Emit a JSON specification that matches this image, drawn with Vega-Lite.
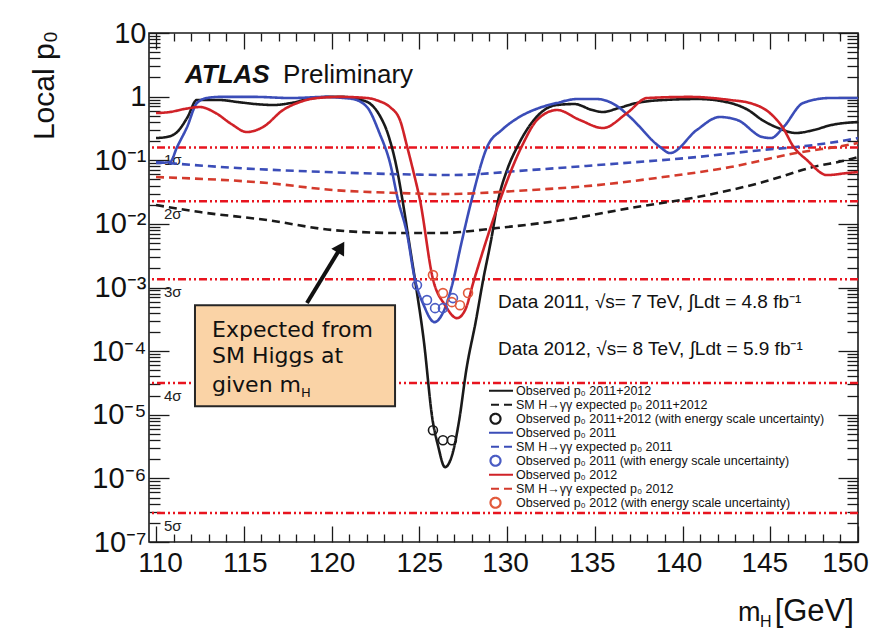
{
  "$schema": "https://vega.github.io/schema/vega-lite/v6.json",
  "width": 709,
  "height": 509,
  "autosize": {"type": "none"},
  "padding": {"left": 149, "top": 33, "right": 17, "bottom": 92},
  "background": "white",
  "config": {
    "view": {"stroke": "#1a1a1a", "strokeWidth": 1.6},
    "font": "Liberation Sans",
    "axis": {"domain": false, "grid": false}
  },
  "datasets": {
    "sigma": [
      {"n": "1σ", "p": 0.158655},
      {"n": "2σ", "p": 0.02275},
      {"n": "3σ", "p": 0.0013499},
      {"n": "4σ", "p": 3.167e-5},
      {"n": "5σ", "p": 2.867e-7}
    ],
    "curves": [
      {"s": "Observed p₀ 2011+2012", "m": 110, "p": 0.2234},
      {"s": "Observed p₀ 2011+2012", "m": 110.6, "p": 0.2315},
      {"s": "Observed p₀ 2011+2012", "m": 111.2, "p": 0.2775},
      {"s": "Observed p₀ 2011+2012", "m": 111.77, "p": 0.461},
      {"s": "Observed p₀ 2011+2012", "m": 112.33, "p": 0.884},
      {"s": "Observed p₀ 2011+2012", "m": 113.1, "p": 0.884},
      {"s": "Observed p₀ 2011+2012", "m": 113.64, "p": 0.884},
      {"s": "Observed p₀ 2011+2012", "m": 114.65, "p": 0.822},
      {"s": "Observed p₀ 2011+2012", "m": 115.66, "p": 0.765},
      {"s": "Observed p₀ 2011+2012", "m": 116.67, "p": 0.738},
      {"s": "Observed p₀ 2011+2012", "m": 117.68, "p": 0.793},
      {"s": "Observed p₀ 2011+2012", "m": 118.69, "p": 0.917},
      {"s": "Observed p₀ 2011+2012", "m": 119.7, "p": 0.99},
      {"s": "Observed p₀ 2011+2012", "m": 120.71, "p": 0.99},
      {"s": "Observed p₀ 2011+2012", "m": 121.215, "p": 0.95},
      {"s": "Observed p₀ 2011+2012", "m": 121.72, "p": 0.884},
      {"s": "Observed p₀ 2011+2012", "m": 122.225, "p": 0.765},
      {"s": "Observed p₀ 2011+2012", "m": 122.73, "p": 0.514},
      {"s": "Observed p₀ 2011+2012", "m": 123.235, "p": 0.249},
      {"s": "Observed p₀ 2011+2012", "m": 123.74, "p": 0.0701},
      {"s": "Observed p₀ 2011+2012", "m": 124.043, "p": 0.0237},
      {"s": "Observed p₀ 2011+2012", "m": 124.447, "p": 0.00464},
      {"s": "Observed p₀ 2011+2012", "m": 124.75, "p": 0.001355},
      {"s": "Observed p₀ 2011+2012", "m": 125.255, "p": 0.000149},
      {"s": "Observed p₀ 2011+2012", "m": 125.76, "p": 8.2e-6},
      {"s": "Observed p₀ 2011+2012", "m": 126.063, "p": 3.32e-6},
      {"s": "Observed p₀ 2011+2012", "m": 126.467, "p": 1.5e-6},
      {"s": "Observed p₀ 2011+2012", "m": 126.871, "p": 2.32e-6},
      {"s": "Observed p₀ 2011+2012", "m": 127.275, "p": 8.2e-6},
      {"s": "Observed p₀ 2011+2012", "m": 127.679, "p": 5.03e-5},
      {"s": "Observed p₀ 2011+2012", "m": 128.234, "p": 0.000307},
      {"s": "Observed p₀ 2011+2012", "m": 128.638, "p": 0.001307},
      {"s": "Observed p₀ 2011+2012", "m": 129.093, "p": 0.00556},
      {"s": "Observed p₀ 2011+2012", "m": 129.497, "p": 0.0237},
      {"s": "Observed p₀ 2011+2012", "m": 130.002, "p": 0.0701},
      {"s": "Observed p₀ 2011+2012", "m": 130.608, "p": 0.1672},
      {"s": "Observed p₀ 2011+2012", "m": 131.315, "p": 0.358},
      {"s": "Observed p₀ 2011+2012", "m": 132.123, "p": 0.616},
      {"s": "Observed p₀ 2011+2012", "m": 132.83, "p": 0.738},
      {"s": "Observed p₀ 2011+2012", "m": 133.84, "p": 0.765},
      {"s": "Observed p₀ 2011+2012", "m": 134.85, "p": 0.616},
      {"s": "Observed p₀ 2011+2012", "m": 135.456, "p": 0.573},
      {"s": "Observed p₀ 2011+2012", "m": 136.365, "p": 0.662},
      {"s": "Observed p₀ 2011+2012", "m": 137.375, "p": 0.793},
      {"s": "Observed p₀ 2011+2012", "m": 138.89, "p": 0.884},
      {"s": "Observed p₀ 2011+2012", "m": 140.91, "p": 0.917},
      {"s": "Observed p₀ 2011+2012", "m": 142.728, "p": 0.793},
      {"s": "Observed p₀ 2011+2012", "m": 143.738, "p": 0.616},
      {"s": "Observed p₀ 2011+2012", "m": 144.546, "p": 0.428},
      {"s": "Observed p₀ 2011+2012", "m": 145.455, "p": 0.321},
      {"s": "Observed p₀ 2011+2012", "m": 146.465, "p": 0.268},
      {"s": "Observed p₀ 2011+2012", "m": 147.475, "p": 0.2985},
      {"s": "Observed p₀ 2011+2012", "m": 148.485, "p": 0.358},
      {"s": "Observed p₀ 2011+2012", "m": 150, "p": 0.399},

      {"s": "SM H→γγ expected p₀ 2011+2012", "m": 110, "p": 0.01975},
      {"s": "SM H→γγ expected p₀ 2011+2012", "m": 112.51, "p": 0.01532},
      {"s": "SM H→γγ expected p₀ 2011+2012", "m": 116.32, "p": 0.01148},
      {"s": "SM H→γγ expected p₀ 2011+2012", "m": 120.08, "p": 0.00799},
      {"s": "SM H→γγ expected p₀ 2011+2012", "m": 123.9, "p": 0.00717},
      {"s": "SM H→γγ expected p₀ 2011+2012", "m": 126.18, "p": 0.00717},
      {"s": "SM H→γγ expected p₀ 2011+2012", "m": 129.43, "p": 0.00859},
      {"s": "SM H→γγ expected p₀ 2011+2012", "m": 133.19, "p": 0.01148},
      {"s": "SM H→γγ expected p₀ 2011+2012", "m": 137.01, "p": 0.01772},
      {"s": "SM H→γγ expected p₀ 2011+2012", "m": 140.83, "p": 0.0264},
      {"s": "SM H→γγ expected p₀ 2011+2012", "m": 144.59, "p": 0.0454},
      {"s": "SM H→γγ expected p₀ 2011+2012", "m": 147.43, "p": 0.0781},
      {"s": "SM H→γγ expected p₀ 2011+2012", "m": 149.37, "p": 0.1007},
      {"s": "SM H→γγ expected p₀ 2011+2012", "m": 150, "p": 0.1122},

      {"s": "Observed p₀ 2011", "m": 110, "p": 0.0903},
      {"s": "Observed p₀ 2011", "m": 110.8, "p": 0.0937},
      {"s": "Observed p₀ 2011", "m": 111.2, "p": 0.1613},
      {"s": "Observed p₀ 2011", "m": 111.77, "p": 0.333},
      {"s": "Observed p₀ 2011", "m": 112.33, "p": 0.793},
      {"s": "Observed p₀ 2011", "m": 112.9, "p": 0.95},
      {"s": "Observed p₀ 2011", "m": 113.64, "p": 0.99},
      {"s": "Observed p₀ 2011", "m": 115.66, "p": 0.99},
      {"s": "Observed p₀ 2011", "m": 117.68, "p": 0.95},
      {"s": "Observed p₀ 2011", "m": 119.7, "p": 0.99},
      {"s": "Observed p₀ 2011", "m": 120.71, "p": 0.95},
      {"s": "Observed p₀ 2011", "m": 121.215, "p": 0.917},
      {"s": "Observed p₀ 2011", "m": 122.023, "p": 0.686},
      {"s": "Observed p₀ 2011", "m": 122.73, "p": 0.268},
      {"s": "Observed p₀ 2011", "m": 123.336, "p": 0.0903},
      {"s": "Observed p₀ 2011", "m": 123.79, "p": 0.0237},
      {"s": "Observed p₀ 2011", "m": 124.295, "p": 0.00717},
      {"s": "Observed p₀ 2011", "m": 124.75, "p": 0.001355},
      {"s": "Observed p₀ 2011", "m": 125.255, "p": 0.000528},
      {"s": "Observed p₀ 2011", "m": 125.861, "p": 0.000286},
      {"s": "Observed p₀ 2011", "m": 126.366, "p": 0.00041},
      {"s": "Observed p₀ 2011", "m": 126.871, "p": 0.00109},
      {"s": "Observed p₀ 2011", "m": 127.376, "p": 0.00464},
      {"s": "Observed p₀ 2011", "m": 127.982, "p": 0.0237},
      {"s": "Observed p₀ 2011", "m": 128.891, "p": 0.1672},
      {"s": "Observed p₀ 2011", "m": 129.699, "p": 0.2985},
      {"s": "Observed p₀ 2011", "m": 130.608, "p": 0.461},
      {"s": "Observed p₀ 2011", "m": 131.82, "p": 0.662},
      {"s": "Observed p₀ 2011", "m": 132.83, "p": 0.793},
      {"s": "Observed p₀ 2011", "m": 134.0, "p": 0.917},
      {"s": "Observed p₀ 2011", "m": 135.13, "p": 0.917},
      {"s": "Observed p₀ 2011", "m": 136.27, "p": 0.71},
      {"s": "Observed p₀ 2011", "m": 137.01, "p": 0.478},
      {"s": "Observed p₀ 2011", "m": 138.72, "p": 0.1613},
      {"s": "Observed p₀ 2011", "m": 139.29, "p": 0.1298},
      {"s": "Observed p₀ 2011", "m": 140.81, "p": 0.2985},
      {"s": "Observed p₀ 2011", "m": 142.12, "p": 0.478},
      {"s": "Observed p₀ 2011", "m": 143.13, "p": 0.428},
      {"s": "Observed p₀ 2011", "m": 144.55, "p": 0.2315},
      {"s": "Observed p₀ 2011", "m": 145.05, "p": 0.2234},
      {"s": "Observed p₀ 2011", "m": 145.76, "p": 0.333},
      {"s": "Observed p₀ 2011", "m": 146.87, "p": 0.793},
      {"s": "Observed p₀ 2011", "m": 148.38, "p": 0.95},
      {"s": "Observed p₀ 2011", "m": 150, "p": 0.95},

      {"s": "SM H→γγ expected p₀ 2011", "m": 110, "p": 0.0937},
      {"s": "SM H→γγ expected p₀ 2011", "m": 114.65, "p": 0.0754},
      {"s": "SM H→γγ expected p₀ 2011", "m": 119.7, "p": 0.0653},
      {"s": "SM H→γγ expected p₀ 2011", "m": 124.75, "p": 0.0596},
      {"s": "SM H→γγ expected p₀ 2011", "m": 126.77, "p": 0.0585},
      {"s": "SM H→γγ expected p₀ 2011", "m": 131.315, "p": 0.0701},
      {"s": "SM H→γγ expected p₀ 2011", "m": 135.153, "p": 0.084},
      {"s": "SM H→γγ expected p₀ 2011", "m": 140.809, "p": 0.1122},
      {"s": "SM H→γγ expected p₀ 2011", "m": 144.546, "p": 0.1446},
      {"s": "SM H→γγ expected p₀ 2011", "m": 146.465, "p": 0.1613},
      {"s": "SM H→γγ expected p₀ 2011", "m": 149.394, "p": 0.2078},
      {"s": "SM H→γγ expected p₀ 2011", "m": 150, "p": 0.2234},

      {"s": "Observed p₀ 2012", "m": 110, "p": 0.552},
      {"s": "Observed p₀ 2012", "m": 110.8, "p": 0.573},
      {"s": "Observed p₀ 2012", "m": 111.6, "p": 0.638},
      {"s": "Observed p₀ 2012", "m": 112.5, "p": 0.686},
      {"s": "Observed p₀ 2012", "m": 113.4, "p": 0.553},
      {"s": "Observed p₀ 2012", "m": 114.3, "p": 0.37},
      {"s": "Observed p₀ 2012", "m": 115.18, "p": 0.2775},
      {"s": "Observed p₀ 2012", "m": 116.1, "p": 0.333},
      {"s": "Observed p₀ 2012", "m": 117.24, "p": 0.616},
      {"s": "Observed p₀ 2012", "m": 118.2, "p": 0.822},
      {"s": "Observed p₀ 2012", "m": 119.17, "p": 0.95},
      {"s": "Observed p₀ 2012", "m": 120.5, "p": 0.99},
      {"s": "Observed p₀ 2012", "m": 122.02, "p": 0.95},
      {"s": "Observed p₀ 2012", "m": 122.7, "p": 0.853},
      {"s": "Observed p₀ 2012", "m": 123.33, "p": 0.686},
      {"s": "Observed p₀ 2012", "m": 123.9, "p": 0.428},
      {"s": "Observed p₀ 2012", "m": 124.3, "p": 0.1672},
      {"s": "Observed p₀ 2012", "m": 124.7, "p": 0.0607},
      {"s": "Observed p₀ 2012", "m": 125.04, "p": 0.0237},
      {"s": "Observed p₀ 2012", "m": 125.78, "p": 0.001355},
      {"s": "Observed p₀ 2012", "m": 126.47, "p": 0.000528},
      {"s": "Observed p₀ 2012", "m": 127.15, "p": 0.00033},
      {"s": "Observed p₀ 2012", "m": 127.61, "p": 0.000441},
      {"s": "Observed p₀ 2012", "m": 128.12, "p": 0.001307},
      {"s": "Observed p₀ 2012", "m": 128.92, "p": 0.00667},
      {"s": "Observed p₀ 2012", "m": 129.6, "p": 0.0237},
      {"s": "Observed p₀ 2012", "m": 130.85, "p": 0.1672},
      {"s": "Observed p₀ 2012", "m": 131.71, "p": 0.428},
      {"s": "Observed p₀ 2012", "m": 132.85, "p": 0.616},
      {"s": "Observed p₀ 2012", "m": 134.16, "p": 0.428},
      {"s": "Observed p₀ 2012", "m": 135.47, "p": 0.321},
      {"s": "Observed p₀ 2012", "m": 136.84, "p": 0.552},
      {"s": "Observed p₀ 2012", "m": 137.98, "p": 0.95},
      {"s": "Observed p₀ 2012", "m": 140.43, "p": 0.99},
      {"s": "Observed p₀ 2012", "m": 142.71, "p": 0.884},
      {"s": "Observed p₀ 2012", "m": 143.84, "p": 0.793},
      {"s": "Observed p₀ 2012", "m": 144.98, "p": 0.552},
      {"s": "Observed p₀ 2012", "m": 145.73, "p": 0.321},
      {"s": "Observed p₀ 2012", "m": 146.3, "p": 0.1672},
      {"s": "Observed p₀ 2012", "m": 147.09, "p": 0.1007},
      {"s": "Observed p₀ 2012", "m": 148.23, "p": 0.0585},
      {"s": "Observed p₀ 2012", "m": 149.37, "p": 0.0629},
      {"s": "Observed p₀ 2012", "m": 150, "p": 0.0653},

      {"s": "SM H→γγ expected p₀ 2012", "m": 110, "p": 0.0544},
      {"s": "SM H→γγ expected p₀ 2012", "m": 116.367, "p": 0.0438},
      {"s": "SM H→γγ expected p₀ 2012", "m": 120.104, "p": 0.034},
      {"s": "SM H→γγ expected p₀ 2012", "m": 123.942, "p": 0.0305},
      {"s": "SM H→γγ expected p₀ 2012", "m": 126.265, "p": 0.0294},
      {"s": "SM H→γγ expected p₀ 2012", "m": 131.315, "p": 0.034},
      {"s": "SM H→γγ expected p₀ 2012", "m": 135.153, "p": 0.0407},
      {"s": "SM H→γγ expected p₀ 2012", "m": 138.89, "p": 0.0544},
      {"s": "SM H→γγ expected p₀ 2012", "m": 142.728, "p": 0.0781},
      {"s": "SM H→γγ expected p₀ 2012", "m": 146.465, "p": 0.1298},
      {"s": "SM H→γγ expected p₀ 2012", "m": 149.394, "p": 0.1734},
      {"s": "SM H→γγ expected p₀ 2012", "m": 150, "p": 0.1864}
    ],
    "circles": [
      {"s": "Observed p₀ 2011+2012 (with energy scale uncertainty)", "m": 125.78, "p": 5.72e-6},
      {"s": "Observed p₀ 2011+2012 (with energy scale uncertainty)", "m": 126.35, "p": 3.98e-6},
      {"s": "Observed p₀ 2011+2012 (with energy scale uncertainty)", "m": 126.86, "p": 3.98e-6},
      {"s": "Observed p₀ 2011 (with energy scale uncertainty)", "m": 124.87, "p": 0.00109},
      {"s": "Observed p₀ 2011 (with energy scale uncertainty)", "m": 125.44, "p": 0.000634},
      {"s": "Observed p₀ 2011 (with energy scale uncertainty)", "m": 125.9, "p": 0.000474},
      {"s": "Observed p₀ 2011 (with energy scale uncertainty)", "m": 126.35, "p": 0.000474},
      {"s": "Observed p₀ 2011 (with energy scale uncertainty)", "m": 126.92, "p": 0.000681},
      {"s": "Observed p₀ 2012 (with energy scale uncertainty)", "m": 125.78, "p": 0.001567},
      {"s": "Observed p₀ 2012 (with energy scale uncertainty)", "m": 126.35, "p": 0.000817},
      {"s": "Observed p₀ 2012 (with energy scale uncertainty)", "m": 126.86, "p": 0.000589},
      {"s": "Observed p₀ 2012 (with energy scale uncertainty)", "m": 127.32, "p": 0.000528},
      {"s": "Observed p₀ 2012 (with energy scale uncertainty)", "m": 127.78, "p": 0.000817}
    ]
  },
  "layer": [
    {
      "data": {"name": "sigma"},
      "mark": {"type": "rule", "color": "#e8141f", "strokeWidth": 2.5, "strokeDash": [8, 3, 2, 3, 2, 3]},
      "encoding": {
        "y": {"field": "p", "type": "quantitative", "scale": {"type": "log", "domain": [1e-7, 10], "nice": false}, "axis": null}
      }
    },
    {
      "data": {"name": "sigma"},
      "mark": {"type": "text", "font": "Liberation Sans", "fontSize": 15, "align": "left", "baseline": "middle", "dy": 13, "color": "#222"},
      "encoding": {
        "x": {"datum": 110.45, "type": "quantitative", "axis": null},
        "y": {"field": "p", "type": "quantitative", "axis": null},
        "text": {"field": "n"}
      }
    },
    {
      "data": {"values": [{"m1": 112.22, "m2": 123.62, "p1": 0.000528, "p2": 1.364e-5}]},
      "mark": {"type": "rect", "fill": "#fad3a6", "stroke": "#262626", "strokeWidth": 2},
      "encoding": {
        "x": {"field": "m1", "type": "quantitative", "axis": null},
        "x2": {"field": "m2"},
        "y": {"field": "p1", "type": "quantitative", "axis": null},
        "y2": {"field": "p2"}
      }
    },
    {
      "data": {"name": "curves"},
      "mark": {"type": "line", "interpolate": "monotone", "strokeWidth": 2.6, "clip": true},
      "encoding": {
        "x": {
          "field": "m", "type": "quantitative",
          "scale": {"domain": [109.6, 150], "nice": false, "zero": false},
          "axis": {
            "orient": "bottom", "title": null, "domain": false, "grid": false,
            "values": [110,111,112,113,114,115,116,117,118,119,120,121,122,123,124,125,126,127,128,129,130,131,132,133,134,135,136,137,138,139,140,141,142,143,144,145,146,147,148,149,150],
            "labelExpr": "datum.value % 5 == 0 ? datum.label : ''",
            "labelFont": "Liberation Sans", "labelFontSize": 28, "labelColor": "#111",
            "labelPadding": 23, "labelFlush": false, "labelOverlap": false, "labelBound": false,
            "labelOffset": {"condition": [
              {"test": "datum.value == 150", "value": -13},
              {"test": "datum.value == 110", "value": 4},
              {"test": "datum.value == 115", "value": 1},
              {"test": "datum.value == 130", "value": -2},
              {"test": "datum.value == 135", "value": -3},
              {"test": "datum.value == 140", "value": -4},
              {"test": "datum.value == 145", "value": -6}
            ], "value": 0},
            "tickColor": "#1a1a1a", "tickWidth": 1.3,
            "tickSize": {"condition": {"test": "datum.value % 5 == 0", "value": -16}, "value": -8}
          }
        },
        "y": {
          "field": "p", "type": "quantitative",
          "scale": {"type": "log", "domain": [1e-7, 10], "nice": false},
          "axis": {
            "orient": "left", "domain": false, "grid": false,
            "values": [1e-7,2e-7,3e-7,4e-7,5e-7,6e-7,7e-7,8e-7,9e-7,1e-6,2e-6,3e-6,4e-6,5e-6,6e-6,7e-6,8e-6,9e-6,1e-5,2e-5,3e-5,4e-5,5e-5,6e-5,7e-5,8e-5,9e-5,0.0001,0.0002,0.0003,0.0004,0.0005,0.0006,0.0007,0.0008,0.0009,0.001,0.002,0.003,0.004,0.005,0.006,0.007,0.008,0.009,0.01,0.02,0.03,0.04,0.05,0.06,0.07,0.08,0.09,0.1,0.2,0.3,0.4,0.5,0.6,0.7,0.8,0.9,1,2,3,4,5,6,7,8,9,10],
            "labelExpr": "abs(log(datum.value)/LN10 - round(log(datum.value)/LN10)) < 0.01 ? (round(log(datum.value)/LN10) == 1 ? '10' : round(log(datum.value)/LN10) == 0 ? '1' : '10⁻' + ['0','¹','²','³','⁴','⁵','⁶','⁷'][-round(log(datum.value)/LN10)]) : ''",
            "labelFont": "Liberation Sans", "labelFontSize": 29, "labelColor": "#111",
            "labelPadding": 23, "labelOverlap": false, "labelBound": false, "labelFlush": false,
            "tickColor": "#1a1a1a", "tickWidth": 1.3,
            "tickSize": {"condition": {"test": "abs(log(datum.value)/LN10 - round(log(datum.value)/LN10)) < 0.01", "value": -20}, "value": -11},
            "title": "Local p₀", "titleFont": "Liberation Sans", "titleFontSize": 30, "titleFontWeight": "normal", "titleColor": "#111",
            "titleAngle": -90, "titleX": -96, "titleY": 52, "titleAlign": "center", "titleBaseline": "alphabetic"
          }
        },
        "color": {
          "field": "s", "type": "nominal",
          "scale": {
            "domain": ["Observed p₀ 2011+2012", "SM H→γγ expected p₀ 2011+2012", "Observed p₀ 2011+2012 (with energy scale uncertainty)", "Observed p₀ 2011", "SM H→γγ expected p₀ 2011", "Observed p₀ 2011 (with energy scale uncertainty)", "Observed p₀ 2012", "SM H→γγ expected p₀ 2012", "Observed p₀ 2012 (with energy scale uncertainty)"],
            "range": ["#1a1a1a", "#1a1a1a", "#1a1a1a", "#3b4db8", "#3b4db8", "#4a5cc4", "#d02228", "#d43a2c", "#e25a3c"]
          },
          "legend": {"orient": "none", "legendX": 340, "legendY": 351, "title": null, "symbolSize": 100, "symbolStrokeWidth": 2.2, "labelFont": "Liberation Sans", "labelFontSize": 12.5, "labelColor": "#111", "labelLimit": 0, "rowPadding": 0, "clipHeight": 13.5, "labelOffset": 14, "padding": 0}
        },
        "strokeDash": {
          "field": "s", "type": "nominal",
          "scale": {
            "domain": ["Observed p₀ 2011+2012", "SM H→γγ expected p₀ 2011+2012", "Observed p₀ 2011+2012 (with energy scale uncertainty)", "Observed p₀ 2011", "SM H→γγ expected p₀ 2011", "Observed p₀ 2011 (with energy scale uncertainty)", "Observed p₀ 2012", "SM H→γγ expected p₀ 2012", "Observed p₀ 2012 (with energy scale uncertainty)"],
            "range": [[1, 0], [8, 5], [1, 0], [1, 0], [8, 5], [1, 0], [1, 0], [8, 5], [1, 0]]
          },
          "legend": {"orient": "none", "legendX": 340, "legendY": 351, "title": null, "symbolSize": 100, "symbolStrokeWidth": 2.2, "labelFont": "Liberation Sans", "labelFontSize": 12.5, "labelColor": "#111", "labelLimit": 0, "rowPadding": 0, "clipHeight": 13.5, "labelOffset": 14, "padding": 0}
        }
      }
    },
    {
      "data": {"name": "circles"},
      "mark": {"type": "point", "filled": false, "size": 80, "strokeWidth": 1.6, "opacity": 1},
      "encoding": {
        "x": {
          "field": "m", "type": "quantitative",
          "axis": {
            "orient": "top", "title": null, "labels": false, "domain": false, "grid": false,
            "values": [110,111,112,113,114,115,116,117,118,119,120,121,122,123,124,125,126,127,128,129,130,131,132,133,134,135,136,137,138,139,140,141,142,143,144,145,146,147,148,149,150],
            "tickColor": "#1a1a1a", "tickWidth": 1.3,
            "tickSize": {"condition": {"test": "datum.value % 5 == 0", "value": -16}, "value": -8}
          }
        },
        "y": {
          "field": "p", "type": "quantitative",
          "axis": {
            "orient": "right", "title": null, "labels": false, "domain": false, "grid": false,
            "values": [1e-7,2e-7,3e-7,4e-7,5e-7,6e-7,7e-7,8e-7,9e-7,1e-6,2e-6,3e-6,4e-6,5e-6,6e-6,7e-6,8e-6,9e-6,1e-5,2e-5,3e-5,4e-5,5e-5,6e-5,7e-5,8e-5,9e-5,0.0001,0.0002,0.0003,0.0004,0.0005,0.0006,0.0007,0.0008,0.0009,0.001,0.002,0.003,0.004,0.005,0.006,0.007,0.008,0.009,0.01,0.02,0.03,0.04,0.05,0.06,0.07,0.08,0.09,0.1,0.2,0.3,0.4,0.5,0.6,0.7,0.8,0.9,1,2,3,4,5,6,7,8,9,10],
            "tickColor": "#1a1a1a", "tickWidth": 1.3,
            "tickSize": {"condition": {"test": "abs(log(datum.value)/LN10 - round(log(datum.value)/LN10)) < 0.01", "value": -20}, "value": -11}
          }
        },
        "color": {
          "field": "s", "type": "nominal",
          "legend": {"orient": "none", "legendX": 340, "legendY": 351, "title": null, "symbolSize": 100, "symbolStrokeWidth": 2.2, "labelFont": "Liberation Sans", "labelFontSize": 12.5, "labelColor": "#111", "labelLimit": 0, "rowPadding": 0, "clipHeight": 13.5, "labelOffset": 14, "padding": 0}
        },
        "shape": {
          "field": "s", "type": "nominal",
          "scale": {
            "domain": ["Observed p₀ 2011+2012", "SM H→γγ expected p₀ 2011+2012", "Observed p₀ 2011+2012 (with energy scale uncertainty)", "Observed p₀ 2011", "SM H→γγ expected p₀ 2011", "Observed p₀ 2011 (with energy scale uncertainty)", "Observed p₀ 2012", "SM H→γγ expected p₀ 2012", "Observed p₀ 2012 (with energy scale uncertainty)"],
            "range": ["M-3.5,0H3.5", "M-3.5,0H3.5", "circle", "M-3.5,0H3.5", "M-3.5,0H3.5", "circle", "M-3.5,0H3.5", "M-3.5,0H3.5", "circle"]
          },
          "legend": {"orient": "none", "legendX": 340, "legendY": 351, "title": null, "symbolSize": 100, "symbolStrokeWidth": 2.2, "labelFont": "Liberation Sans", "labelFontSize": 12.5, "labelColor": "#111", "labelLimit": 0, "rowPadding": 0, "clipHeight": 13.5, "labelOffset": 14, "padding": 0}
        }
      }
    },
    {
      "data": {"values": [{"m1": 118.6, "p1": 0.000569, "m2": 120.54, "p2": 0.00431}]},
      "mark": {"type": "rule", "color": "#111", "strokeWidth": 4},
      "encoding": {
        "x": {"field": "m1", "type": "quantitative", "axis": null},
        "y": {"field": "p1", "type": "quantitative", "axis": null},
        "x2": {"field": "m2"},
        "y2": {"field": "p2"}
      }
    },
    {
      "data": {"values": [{"m2": 120.54, "p2": 0.00431}]},
      "mark": {"type": "point", "shape": "triangle-up", "angle": 31, "size": 220, "filled": true, "color": "#111", "opacity": 1},
      "encoding": {
        "x": {"field": "m2", "type": "quantitative", "axis": null},
        "y": {"field": "p2", "type": "quantitative", "axis": null}
      }
    },
    {
      "data": {"values": [{"t": "Expected from", "m": 113.19, "p": 0.000166}, {"t": "SM Higgs at", "m": 113.19, "p": 6.47e-5}, {"t": "given m", "m": 113.19, "p": 2.26e-5}]},
      "mark": {"type": "text", "font": "DejaVu Sans", "fontSize": 22, "align": "left", "baseline": "alphabetic", "color": "#111"},
      "encoding": {
        "x": {"field": "m", "type": "quantitative", "axis": null},
        "y": {"field": "p", "type": "quantitative", "axis": null},
        "text": {"field": "t"}
      }
    },
    {
      "data": {"values": [{"t": "H", "m": 118.26, "p": 1.89e-5}]},
      "mark": {"type": "text", "font": "DejaVu Sans", "fontSize": 13, "align": "left", "baseline": "alphabetic", "color": "#111"},
      "encoding": {
        "x": {"field": "m", "type": "quantitative", "axis": null},
        "y": {"field": "p", "type": "quantitative", "axis": null},
        "text": {"field": "t"}
      }
    },
    {
      "data": {"values": [{"t": "ATLAS", "m": 111.65, "p": 2.186}]},
      "mark": {"type": "text", "font": "Liberation Sans", "fontSize": 26, "fontWeight": "bold", "fontStyle": "italic", "align": "left", "baseline": "middle", "color": "#111"},
      "encoding": {
        "x": {"field": "m", "type": "quantitative", "axis": null},
        "y": {"field": "p", "type": "quantitative", "axis": null},
        "text": {"field": "t"}
      }
    },
    {
      "data": {"values": [{"t": "Preliminary", "m": 117.24, "p": 2.186}]},
      "mark": {"type": "text", "font": "Liberation Sans", "fontSize": 26, "align": "left", "baseline": "middle", "color": "#111"},
      "encoding": {
        "x": {"field": "m", "type": "quantitative", "axis": null},
        "y": {"field": "p", "type": "quantitative", "axis": null},
        "text": {"field": "t"}
      }
    },
    {
      "data": {"values": [{"t": "Data 2011, √s= 7 TeV, ∫Ldt = 4.8 fb⁻¹", "m": 129.49, "p": 0.0006}, {"t": "Data 2012, √s= 8 TeV, ∫Ldt = 5.9 fb⁻¹", "m": 129.49, "p": 0.000109}]},
      "mark": {"type": "text", "font": "Liberation Sans", "fontSize": 19, "align": "left", "baseline": "middle", "color": "#111"},
      "encoding": {
        "x": {"field": "m", "type": "quantitative", "axis": null},
        "y": {"field": "p", "type": "quantitative", "axis": null},
        "text": {"field": "t"}
      }
    },
    {
      "data": {"values": [{"t": "m", "m": 143.16, "p": 5.69e-9}]},
      "mark": {"type": "text", "font": "Liberation Sans", "fontSize": 27, "align": "left", "baseline": "alphabetic", "color": "#111"},
      "encoding": {
        "x": {"field": "m", "type": "quantitative", "axis": null},
        "y": {"field": "p", "type": "quantitative", "axis": null},
        "text": {"field": "t"}
      }
    },
    {
      "data": {"values": [{"t": "H", "m": 144.41, "p": 4.57e-9}]},
      "mark": {"type": "text", "font": "Liberation Sans", "fontSize": 16, "align": "left", "baseline": "alphabetic", "color": "#111"},
      "encoding": {
        "x": {"field": "m", "type": "quantitative", "axis": null},
        "y": {"field": "p", "type": "quantitative", "axis": null},
        "text": {"field": "t"}
      }
    },
    {
      "data": {"values": [{"t": "[GeV]", "m": 145.25, "p": 5.69e-9}]},
      "mark": {"type": "text", "font": "Liberation Sans", "fontSize": 31, "align": "left", "baseline": "alphabetic", "color": "#111"},
      "encoding": {
        "x": {"field": "m", "type": "quantitative", "axis": null},
        "y": {"field": "p", "type": "quantitative", "axis": null},
        "text": {"field": "t"}
      }
    }
  ],
  "resolve": {"axis": {"x": "independent", "y": "independent"}}
}
